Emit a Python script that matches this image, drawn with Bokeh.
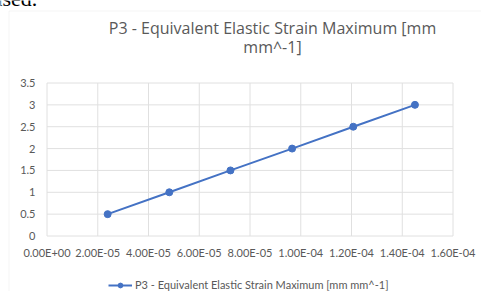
from bokeh.plotting import figure
from bokeh.models import (ColumnDataSource, Legend, LegendItem, Label,
                          BoxAnnotation, Range1d)
from bokeh.core.properties import value
from bokeh.embed import file_html
from bokeh.resources import INLINE

# ---- data ----
strain = [2.39e-5, 4.82e-5, 7.23e-5, 9.66e-5, 1.207e-4, 1.450e-4]
load = [0.5, 1.0, 1.5, 2.0, 2.5, 3.0]
x_ticks = [0.0, 2e-5, 4e-5, 6e-5, 8e-5, 1e-4, 1.2e-4, 1.4e-4, 1.6e-4]
x_tick_labels = ["0.00E+00", "2.00E-05", "4.00E-05", "6.00E-05", "8.00E-05",
                 "1.00E-04", "1.20E-04", "1.40E-04", "1.60E-04"]
y_ticks = [0, 0.5, 1, 1.5, 2, 2.5, 3, 3.5]
y_tick_labels = ["0", "0.5", "1", "1.5", "2", "2.5", "3", "3.5"]
series_name = "P3 - Equivalent Elastic Strain Maximum [mm mm^-1]"
title_lines = ["P3 - Equivalent Elastic Strain Maximum [mm", "mm^-1]"]
doc_text = "used."

# ---- layout (canvas pixels, measured from the top-left corner) ----
W, H = 481, 291
PL, PR, PT, PB = 46.5, 452.5, 82.5, 235.5   # plot area: x 0..1.6e-4, y 0..3.5
XLAB_ROW = 252        # centre row of x tick labels
YLAB_COL = 35         # right edge of y tick labels
TITLE_X = 272
TITLE_ROWS = [27, 46]
FONT = "Lato"
TITLE_FONT = "Open Sans"
GREY = "#595959"
BLUE = "#4472C4"
GRID = "#e0e0e0"

# the frame fills the whole canvas; ranges map the plot area onto PL..PR, PT..PB
px_x = (x_ticks[-1] - x_ticks[0]) / (PR - PL)
px_y = (y_ticks[-1] - y_ticks[0]) / (PB - PT)
x_range = Range1d(x_ticks[0] - PL * px_x, x_ticks[-1] + (W - PR) * px_x)
y_range = Range1d(y_ticks[0] - (H - PB) * px_y, y_ticks[-1] + PT * px_y)

src = ColumnDataSource(dict(x=strain, y=load))
vgrid = ColumnDataSource(dict(x=x_ticks, y0=[y_ticks[0]] * len(x_ticks),
                              y1=[y_ticks[-1]] * len(x_ticks)))
hgrid = ColumnDataSource(dict(y=y_ticks, x0=[x_ticks[0]] * len(y_ticks),
                              x1=[x_ticks[-1]] * len(y_ticks)))
xlab = ColumnDataSource(dict(x=x_ticks, text=x_tick_labels,
                             y=[y_ticks[0] - (XLAB_ROW - PB) * px_y] * len(x_ticks)))
ylab = ColumnDataSource(dict(y=y_ticks, text=y_tick_labels,
                             x=[x_ticks[0] - (PL - YLAB_COL) * px_x] * len(y_ticks)))

p = figure(width=W, height=H, output_backend="svg", toolbar_location=None,
           x_range=x_range, y_range=y_range,
           x_axis_location=None, y_axis_location=None,
           min_border=0, min_border_left=0, min_border_right=0,
           min_border_top=0, min_border_bottom=0)
p.outline_line_color = None
p.background_fill_color = "white"
p.border_fill_color = "white"
p.title.text = ""
p.grid.visible = False

# chart-area border (light grey, left and top edges visible)
p.add_layout(BoxAnnotation(left=8.5, right=W + 10, bottom=-10, top=H - 10.5,
                           left_units="screen", right_units="screen",
                           top_units="screen", bottom_units="screen",
                           fill_color=None, line_color="#d9d9d9", line_width=1,
                           level="underlay"))

# grid
p.segment(x0="x", y0="y0", x1="x", y1="y1", source=vgrid,
          line_color=GRID, line_width=1, level="underlay")
p.segment(x0="x0", y0="y", x1="x1", y1="y", source=hgrid,
          line_color=GRID, line_width=1, level="underlay")

# series
line = p.line("x", "y", source=src, line_color=BLUE, line_width=2)
pts = p.scatter("x", "y", source=src, size=7, fill_color=BLUE, line_color=BLUE)

# tick labels
p.text(x="x", y="y", text="text", source=xlab, text_align="center",
       text_baseline="middle", text_font=value(FONT), text_font_size="11px",
       text_color=GREY)
p.text(x="x", y="y", text="text", source=ylab, text_align="right",
       text_baseline="middle", text_font=value(FONT), text_font_size="11px",
       text_color=GREY)

# legend
legend = Legend(items=[LegendItem(label=series_name, renderers=[line, pts])],
                location=(108, 0), orientation="horizontal",
                background_fill_alpha=0, border_line_color=None,
                label_text_font=FONT, label_text_font_size="11px",
                label_text_color=GREY, glyph_width=24, glyph_height=12,
                label_height=12, padding=0, margin=0, label_standoff=3)
p.add_layout(legend, "center")

# title (two lines)
for txt, row in zip(title_lines, TITLE_ROWS):
    p.add_layout(Label(x=TITLE_X, y=H - row, x_units="screen", y_units="screen",
                       text=txt, text_align="center", text_baseline="middle",
                       text_font=TITLE_FONT, text_font_size="16px",
                       text_color=GREY))

# fragment of the surrounding document text, cut by the top edge
p.add_layout(Label(x=-9, y=H + 2, x_units="screen", y_units="screen",
                   text=doc_text, text_align="left", text_baseline="alphabetic",
                   text_font="Liberation Serif", text_font_size="22px",
                   text_color="#000000"))

open("out.html", "w").write(file_html(p, INLINE))
